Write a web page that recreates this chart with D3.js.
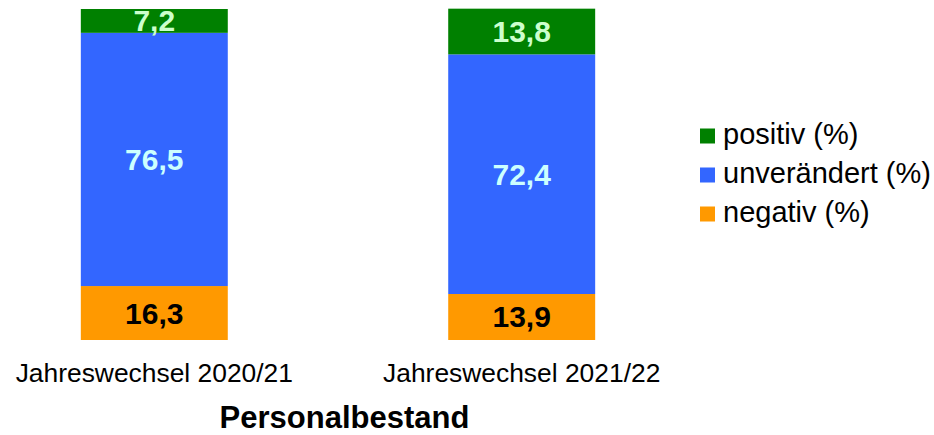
<!DOCTYPE html>
<html>
<head>
<meta charset="utf-8">
<script src="https://cdn.jsdelivr.net/npm/d3@7/dist/d3.min.js"></script>
<style>
  html, body { margin: 0; padding: 0; background: #fff; }
  svg text { font-family: "Liberation Sans", Arial, sans-serif; }
</style>
</head>
<body>
<div id="chart"></div>
<script>
// Daten (Anteile in %)
const categories = ['Jahreswechsel 2020/21', 'Jahreswechsel 2021/22'];
const negativ = [16.3, 13.9];
const unveraendert = [76.5, 72.4];
const positiv = [7.2, 13.8];
const seriesNames = ['negativ (%)', 'unverändert (%)', 'positiv (%)'];
const title = 'Personalbestand';

const width = 934, height = 435;
const colors = { 'negativ (%)': '#FF9900', 'unverändert (%)': '#3366FF', 'positiv (%)': '#008000' };
const labelColors = { 'negativ (%)': '#000000', 'unverändert (%)': '#CCFFFF', 'positiv (%)': '#CCFFCC' };

const rows = categories.map((c, i) => ({
  cat: c,
  'negativ (%)': negativ[i],
  'unverändert (%)': unveraendert[i],
  'positiv (%)': positiv[i]
}));

const svg = d3.select('#chart')
  .append('svg')
  .attr('width', width)
  .attr('height', height);

const x = d3.scaleBand()
  .domain(categories)
  .range([0, 676])
  .paddingInner(0.6)
  .paddingOuter(0.22);

const y = d3.scaleLinear().domain([0, 100]).range([340, 9]);

const stack = d3.stack().keys(seriesNames);
const layers = stack(rows);

// Balken
const g = svg.append('g');
layers.forEach((layer) => {
  const key = layer.key;
  g.append('g')
    .selectAll('rect')
    .data(layer)
    .join('rect')
    .attr('x', (d) => x(d.data.cat))
    .attr('width', x.bandwidth())
    .attr('y', (d) => y(d[1]))
    .attr('height', (d) => y(d[0]) - y(d[1]))
    .attr('fill', colors[key]);
});

// Werte
layers.forEach((layer) => {
  const key = layer.key;
  g.append('g')
    .selectAll('text')
    .data(layer)
    .join('text')
    .attr('x', (d) => x(d.data.cat) + x.bandwidth() / 2)
    .attr('y', (d) => (y(d[0]) + y(d[1])) / 2 + 10.5)
    .attr('text-anchor', 'middle')
    .attr('font-size', 30)
    .attr('font-weight', 'bold')
    .attr('fill', labelColors[key])
    .text((d) => d3.format('.1f')(d[1] - d[0]).replace('.', ','));
});

// Kategorie-Beschriftung
svg.append('g')
  .selectAll('text')
  .data(categories)
  .join('text')
  .attr('x', (d) => x(d) + x.bandwidth() / 2)
  .attr('y', 381.5)
  .attr('text-anchor', 'middle')
  .attr('font-size', 26.4)
  .attr('fill', '#000')
  .text((d) => d);

// Titel
svg.append('text')
  .attr('x', 344.5)
  .attr('y', 428)
  .attr('text-anchor', 'middle')
  .attr('font-size', 31)
  .attr('font-weight', 'bold')
  .attr('fill', '#000')
  .text(title);

// Legende
const legendKeys = seriesNames.slice().reverse();
const legend = svg.append('g')
  .selectAll('g')
  .data(legendKeys)
  .join('g')
  .attr('transform', (d, i) => `translate(700,${128.5 + i * 39})`);

legend.append('rect')
  .attr('width', 15)
  .attr('height', 15)
  .attr('fill', (d) => colors[d]);

legend.append('text')
  .attr('x', 23)
  .attr('y', 15)
  .attr('font-size', 29)
  .attr('fill', '#000')
  .text((d) => d);
</script>
</body>
</html>
